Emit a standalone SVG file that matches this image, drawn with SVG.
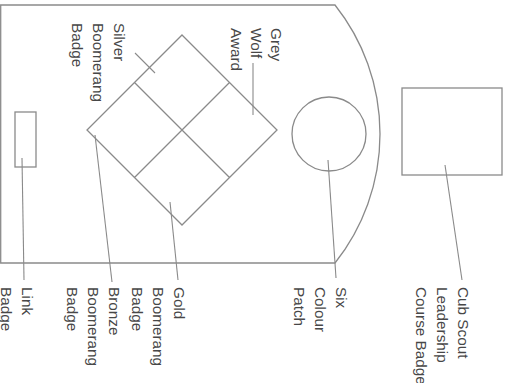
<svg xmlns="http://www.w3.org/2000/svg" width="509" height="383" viewBox="0 0 509 383">
<style>
.s{fill:none;stroke:#8a8a8a;stroke-width:1.3}
.l{fill:none;stroke:#8a8a8a;stroke-width:1.1}
text{font-family:"Liberation Sans",Arial,sans-serif;font-size:15.3px;fill:#474747}
</style>
<rect width="509" height="383" fill="#fff"/>
<g id="outline">
<path class="s" d="M0.7,5 H335 A207.4,207.4 0 0 1 335,263 H0.7 Z"/>
</g>
<g id="link-badge">
<rect class="s" x="15" y="112" width="21" height="55"/>
<text transform="translate(22,287) rotate(90)">Link</text>
<text transform="translate(1,287) rotate(90)">Badge</text>
</g>
<g id="boomerang-diamond">
<path class="s" d="M182,35 L277,130 L182,225 L87,130 Z M134.5,82.5 L229.5,177.5 M229.5,82.5 L134.5,177.5"/>
</g>
<g id="silver-boomerang">
<text transform="translate(114,23) rotate(90)">Silver</text>
<text transform="translate(93,23) rotate(90)">Boomerang</text>
<text transform="translate(72,23) rotate(90)">Badge</text>
</g>
<g id="grey-wolf">
<text transform="translate(271,28) rotate(90)">Grey</text>
<text transform="translate(251,28) rotate(90)">Wolf</text>
<text transform="translate(231,28) rotate(90)">Award</text>
</g>
<g id="bronze-boomerang">
<text transform="translate(109,287) rotate(90)">Bronze</text>
<text transform="translate(88,287) rotate(90)">Boomerang</text>
<text transform="translate(67,287) rotate(90)">Badge</text>
</g>
<g id="gold-boomerang">
<text transform="translate(174,287) rotate(90)">Gold</text>
<text transform="translate(153,287) rotate(90)">Boomerang</text>
<text transform="translate(132,287) rotate(90)">Badge</text>
</g>
<g id="six-colour-patch">
<circle class="s" cx="329" cy="134" r="37"/>
<text transform="translate(336,287) rotate(90)">Six</text>
<text transform="translate(315,287) rotate(90)">Colour</text>
<text transform="translate(294,287) rotate(90)">Patch</text>
</g>
<g id="cub-scout-leadership">
<rect class="s" x="402" y="88" width="100" height="87"/>
<text transform="translate(458,287) rotate(90)">Cub Scout</text>
<text transform="translate(437,287) rotate(90)">Leadership</text>
<text transform="translate(416,287) rotate(90)">Course Badge</text>
</g>
<g id="connectors">
<line class="l" x1="135" y1="53" x2="155" y2="73"/>
<line class="l" x1="253" y1="63" x2="253" y2="115"/>
<line class="l" x1="22" y1="158" x2="24" y2="280"/>
<line class="l" x1="95" y1="135" x2="112" y2="282"/>
<line class="l" x1="170" y1="202" x2="178" y2="280"/>
<line class="l" x1="328" y1="160" x2="336" y2="278"/>
<line class="l" x1="445" y1="165" x2="462" y2="280"/>
</g>
</svg>
